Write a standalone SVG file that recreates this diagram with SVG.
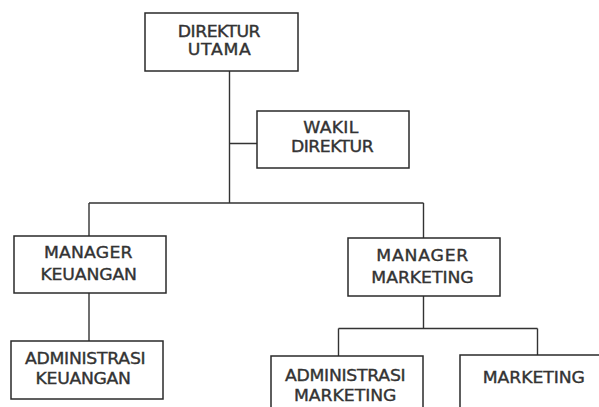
<svg xmlns="http://www.w3.org/2000/svg" width="599" height="407" viewBox="0 0 599 407">
<style>
.box{fill:#fff;stroke:#2a2a2a;stroke-width:1.5}
.ln{fill:none;stroke:#333;stroke-width:1.4}
text{font-family:"DejaVu Sans","Liberation Sans",sans-serif;font-size:15px;fill:#333;text-anchor:middle;stroke:#333;stroke-width:0.35}
</style>
<rect width="599" height="407" fill="#fff"/>
<g id="connectors">
<path class="ln" d="M229.5 71V203M229.5 143.5H257M89 203H423.5M89 203V236M423.5 203V238M89 293V341M423.5 296V328.5M338.5 328.5H537.5M338.5 328.5V356M537.5 328.5V355"/>
</g>
<g id="direktur-utama">
<rect class="box" x="145" y="13" width="153" height="58"/>
<text transform="translate(219.2 36.7) scale(1.15 1)" textLength="72">DIREKTUR</text>
<text transform="translate(219.3 55) scale(1.15 1)" textLength="55">UTAMA</text>
</g>
<g id="wakil-direktur">
<rect class="box" x="257" y="111" width="152" height="57"/>
<text transform="translate(330.8 132.7) scale(1.15 1)" textLength="48">WAKIL</text>
<text transform="translate(332.3 152.3) scale(1.15 1)" textLength="72">DIREKTUR</text>
</g>
<g id="manager-keuangan">
<rect class="box" x="14" y="236" width="152" height="57"/>
<text transform="translate(88.2 258.3) scale(1.15 1)" textLength="77">MANAGER</text>
<text transform="translate(88.7 280) scale(1.15 1)" textLength="84">KEUANGAN</text>
</g>
<g id="manager-marketing">
<rect class="box" x="348" y="238" width="152" height="58"/>
<text transform="translate(422.3 260.7) scale(1.15 1)" textLength="80">MANAGER</text>
<text transform="translate(422.5 282.7) scale(1.15 1)" textLength="89">MARKETING</text>
</g>
<g id="administrasi-keuangan">
<rect class="box" x="11" y="341" width="152" height="58"/>
<text transform="translate(85.3 364) scale(1.15 1)" textLength="105">ADMINISTRASI</text>
<text transform="translate(83.3 384) scale(1.15 1)" textLength="83">KEUANGAN</text>
</g>
<g id="administrasi-marketing">
<rect class="box" x="271" y="356" width="152" height="60"/>
<text transform="translate(345.3 380.7) scale(1.15 1)" textLength="105">ADMINISTRASI</text>
<text transform="translate(345.2 400.7) scale(1.15 1)" textLength="89">MARKETING</text>
</g>
<g id="marketing">
<rect class="box" x="460" y="355" width="152" height="60"/>
<text transform="translate(533.8 382.7) scale(1.15 1)" textLength="89">MARKETING</text>
</g>
</svg>
